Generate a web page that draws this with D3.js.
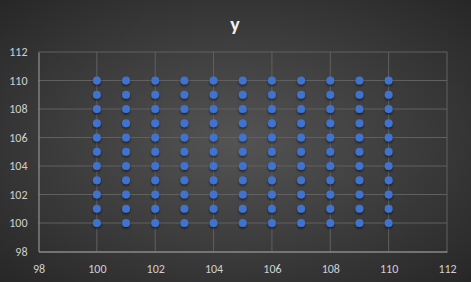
<!DOCTYPE html>
<html>
<head>
<meta charset="utf-8">
<script src="https://cdn.jsdelivr.net/npm/d3@7"></script>
<style>
  body { margin: 0; padding: 0; overflow: hidden; }
  svg { display: block; }
</style>
</head>
<body>
<div id="chart"></div>
<script>
// data: an 11 x 11 grid of points
var xValues = [100, 101, 102, 103, 104, 105, 106, 107, 108, 109, 110];
var yValues = [100, 101, 102, 103, 104, 105, 106, 107, 108, 109, 110];
var xTicks = [98, 100, 102, 104, 106, 108, 110, 112];
var yTicks = [98, 100, 102, 104, 106, 108, 110, 112];
var title = "y";

var W = 471, H = 282;
var margin = {top: 52, right: 24, bottom: 30.5, left: 38.5},
    width = W - margin.left - margin.right,
    height = H - margin.top - margin.bottom;

var points = [];
xValues.forEach(function(xv) {
  yValues.forEach(function(yv) {
    points.push({x: xv, y: yv});
  });
});

var svg = d3.select("#chart").append("svg")
    .attr("width", W)
    .attr("height", H);

var defs = svg.append("defs");
var grad = defs.append("radialGradient")
    .attr("id", "bg")
    .attr("cx", "50%").attr("cy", "50%").attr("r", "75%");
grad.append("stop").attr("offset", "0%").attr("stop-color", "#545454");
grad.append("stop").attr("offset", "100%").attr("stop-color", "#242424");

var shadow = defs.append("filter").attr("id", "shadow")
    .attr("x", "-50%").attr("y", "-50%").attr("width", "200%").attr("height", "200%");
shadow.append("feDropShadow")
    .attr("dx", 0).attr("dy", 1.5).attr("stdDeviation", 1)
    .attr("flood-color", "#000").attr("flood-opacity", 0.6);

svg.append("rect")
    .attr("width", W).attr("height", H)
    .attr("fill", "url(#bg)");

svg.append("text")
    .attr("x", 235).attr("y", 31)
    .attr("text-anchor", "middle")
    .attr("font-family", "Calibri, Carlito, 'Liberation Sans', sans-serif")
    .attr("font-size", 20)
    .attr("font-weight", "bold")
    .attr("fill", "#f2f2f2")
    .text(title);

var g = svg.append("g")
    .attr("transform", "translate(" + margin.left + "," + margin.top + ")");

var x = d3.scaleLinear().domain([98, 112]).range([0, width]);
var y = d3.scaleLinear().domain([98, 112]).range([height, 0]);

// gridlines
g.selectAll("line.vgrid")
    .data(xTicks.slice(1))
    .enter().append("line")
    .attr("class", "vgrid")
    .attr("x1", function(d) { return x(d); })
    .attr("x2", function(d) { return x(d); })
    .attr("y1", 0).attr("y2", height)
    .attr("stroke", "#606060").attr("stroke-width", 1);

g.selectAll("line.hgrid")
    .data(yTicks.slice(1))
    .enter().append("line")
    .attr("class", "hgrid")
    .attr("x1", 0).attr("x2", width)
    .attr("y1", function(d) { return y(d); })
    .attr("y2", function(d) { return y(d); })
    .attr("stroke", "#606060").attr("stroke-width", 1);

// axes
var xAxis = g.append("g")
    .attr("transform", "translate(0," + height + ")")
    .call(d3.axisBottom(x).tickValues(xTicks).tickSize(0).tickPadding(13));
var yAxis = g.append("g")
    .call(d3.axisLeft(y).tickValues(yTicks).tickSize(0).tickPadding(11));

[xAxis, yAxis].forEach(function(ax) {
  ax.select(".domain").attr("stroke", "#8a8a8a").attr("stroke-width", 1.3);
  ax.selectAll("text")
    .attr("fill", "#d0d0d0")
    .attr("font-family", "Calibri, Carlito, 'Liberation Sans', sans-serif")
    .attr("font-size", 12);
});

// points
g.selectAll("circle.pt")
    .data(points)
    .enter().append("circle")
    .attr("class", "pt")
    .attr("cx", function(d) { return x(d.x); })
    .attr("cy", function(d) { return y(d.y); })
    .attr("r", 4)
    .attr("fill", "#3f72d0")
    .attr("filter", "url(#shadow)");
</script>
</body>
</html>
